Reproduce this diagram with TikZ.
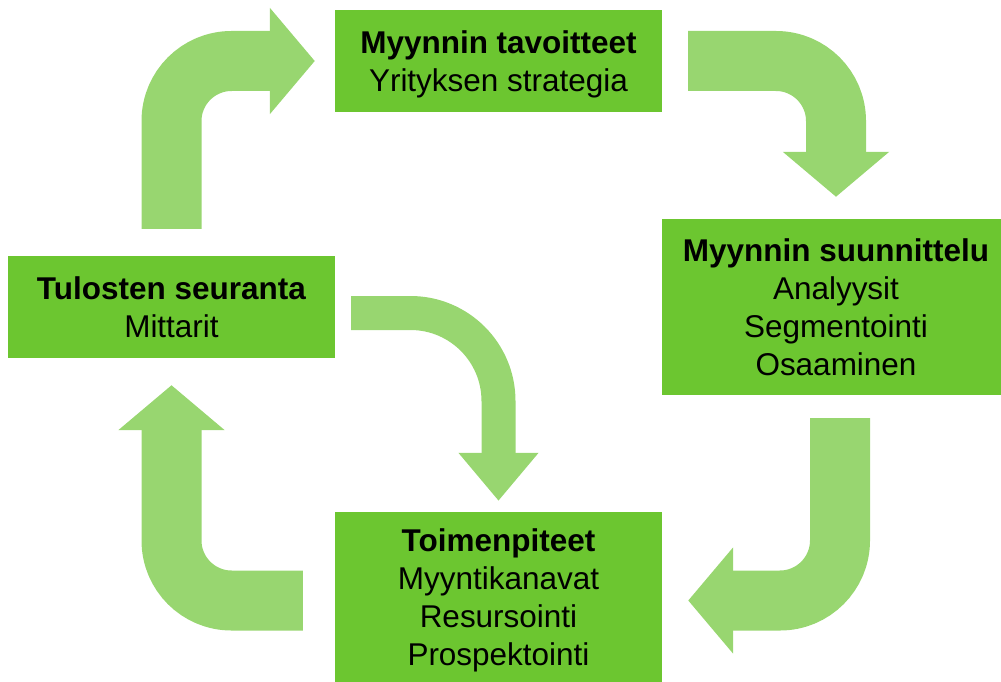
\documentclass[tikz,border=0pt]{standalone}
\usepackage{fontspec}
\setmainfont{Liberation Sans}
\usetikzlibrary{arrows.meta}
\definecolor{laatikkovihrea}{RGB}{108,198,48}
\definecolor{nuolivihrea}{RGB}{152,214,112}

\begin{document}
\begin{tikzpicture}[x=1bp,y=-1bp,
  laatikko/.style={rectangle,fill=laatikkovihrea,inner sep=0pt,align=center,
    font=\fontsize{31.6}{38.1}\selectfont},
  nuoli/.style={draw=nuolivihrea,line width=60bp,rounded corners=60bp,
    -{Triangle[width=104bp,length=45bp]}},
  pieninuoli/.style={draw=nuolivihrea,line width=34bp,rounded corners=88bp,
    -{Triangle[width=77bp,length=48bp]}}]
\useasboundingbox (0,0) rectangle (1001,682);
\node[laatikko,minimum width=327bp,minimum height=102bp] (tavoit) at (498.5,61)
  {\textbf{Myynnin tavoitteet}\\\raisebox{0pt}[\height][0pt]{Yrityksen strategia}};
\node[laatikko,minimum width=348bp,minimum height=176bp] (suunn) at (836,307)
  {\textbf{Myynnin suunnittelu}\\Analyysit\\Segmentointi\\Osaaminen};
\node[laatikko,minimum width=327bp,minimum height=177bp] (toimen) at (498.5,600.5)
  {\textbf{Toimenpiteet}\\Myyntikanavat\\Resursointi\\Prospektointi};
\node[laatikko,minimum width=327bp,minimum height=102bp] (tulos) at (171.5,307)
  {\textbf{Tulosten seuranta}\\Mittarit};
\draw[nuoli] ([yshift=27bp]tulos.north) |- ([xshift=-20bp]tavoit.west);
\draw[nuoli] ([xshift=26bp]tavoit.east) -| ([yshift=22bp]suunn.north);
\draw[nuoli] ([xshift=4bp,yshift=-23bp]suunn.south) |- ([xshift=26bp]toimen.east);
\draw[nuoli] ([xshift=-32bp]toimen.west) -| ([yshift=-27bp]tulos.south);
\draw[pieninuoli] ([xshift=16bp,yshift=-6bp]tulos.east) -| ([yshift=11bp]toimen.north);
\end{tikzpicture}
\end{document}
